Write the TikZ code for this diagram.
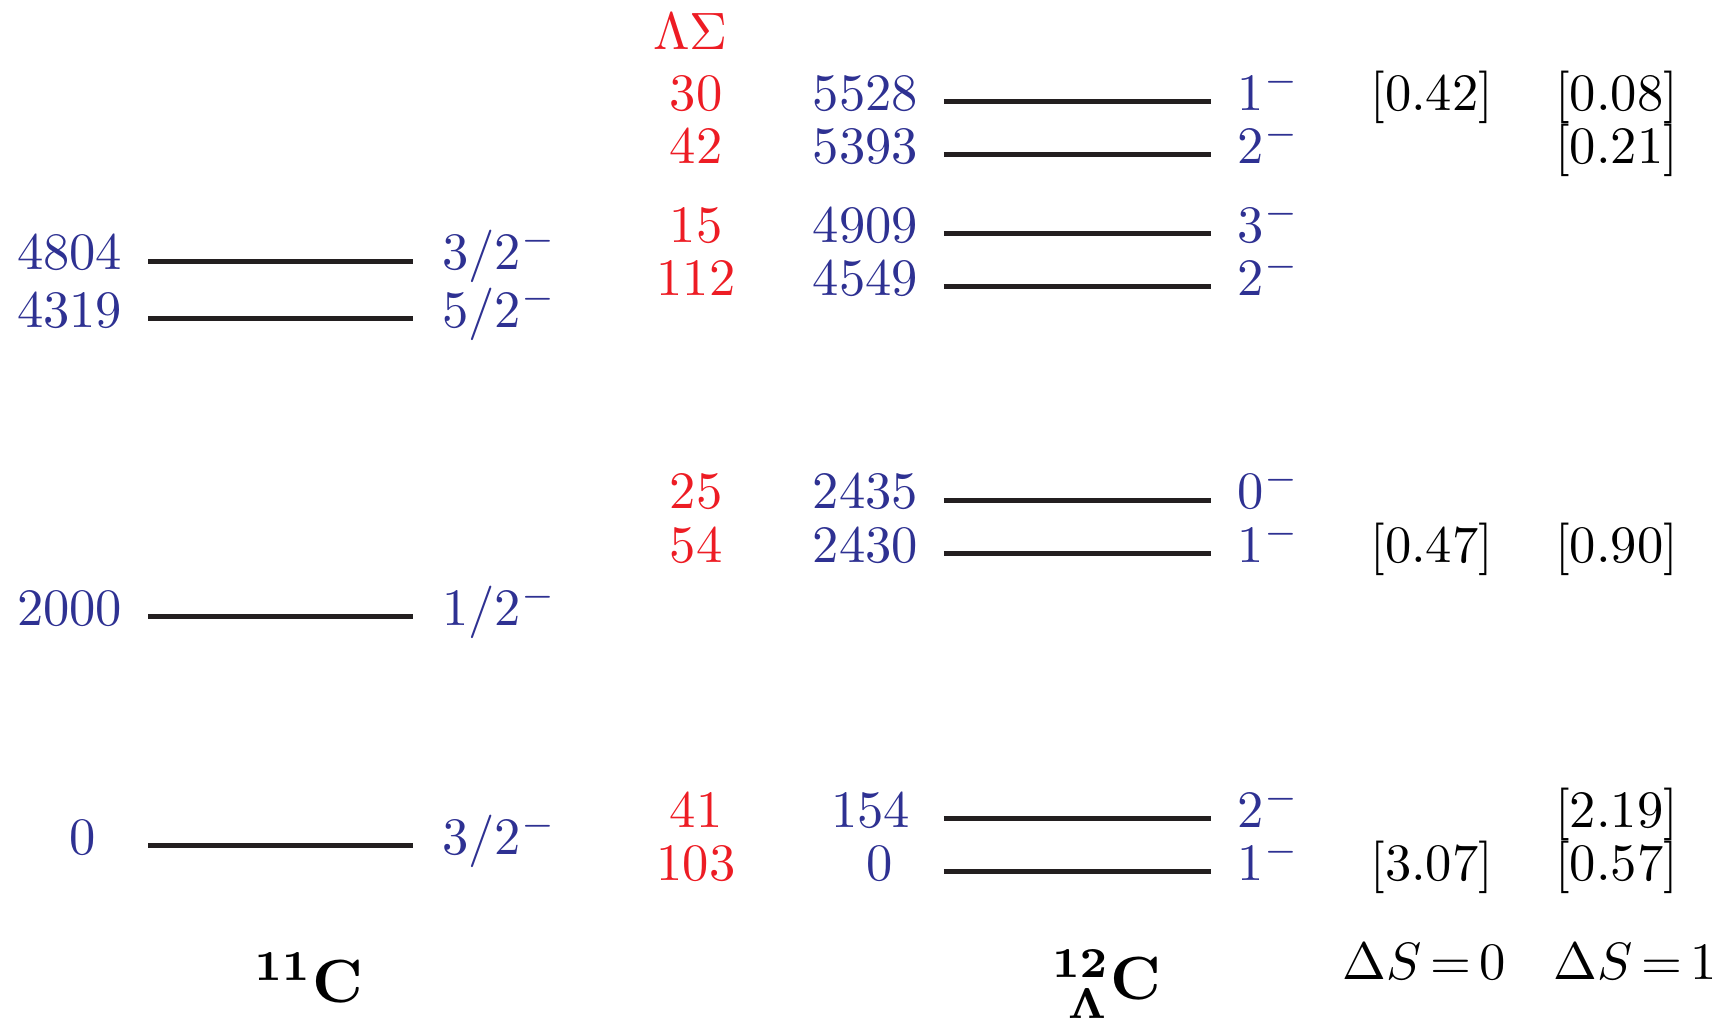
\documentclass[tikz,border=0pt]{standalone}
\definecolor{LevelBlue}{RGB}{46,49,146}
\definecolor{CouplingRed}{RGB}{237,28,36}
\definecolor{LevelLine}{RGB}{35,31,32}

\begin{document}
\begin{tikzpicture}[x=0.5pt,y=-0.5pt,every node/.style={scale=2.375,inner sep=1pt},
    nuclide/.style={anchor=base,scale=1.16,font=\boldmath}]
  \useasboundingbox (0,0) rectangle (1568,925);
  % Core level: name, line height, energy x, energy, spin-parity.
  \newcommand{\corelevel}[5]{%
    \draw[LevelLine,line width=2.3pt] (134,#2) -- (373,#2);
    \node[anchor=base,LevelBlue] (#1e) at (#3,{#2+8}) {#4};
    \node[anchor=base west,LevelBlue] (#1j) at (394,{#2+8}) {$#5$};
  }
  % Hypernuclear level: name, line height, energy x, energy, spin-parity, Lambda-Sigma shift.
  \newcommand{\hyplevel}[6]{%
    \draw[LevelLine,line width=2.3pt] (853,#2) -- (1094,#2);
    \node[anchor=base,CouplingRed] (#1s) at (629,{#2+8}) {#6};
    \node[anchor=base,LevelBlue] (#1e) at (#3,{#2+8}) {#4};
    \node[anchor=base west,LevelBlue] (#1j) at (1113,{#2+8}) {$#5$};
  }

  \corelevel{ca}{236}{63}{4804}{3/2^-}
  \corelevel{cb}{288}{63}{4319}{5/2^-}
  \corelevel{cc}{557}{63}{2000}{1/2^-}
  \corelevel{cd}{764}{75}{0}{3/2^-}

  \node[anchor=base,CouplingRed] (ls) at (624,45) {$\Lambda\Sigma$};
  \hyplevel{ha}{92}{782}{5528}{1^-}{30}
  \hyplevel{hb}{140}{782}{5393}{2^-}{42}
  \hyplevel{hc}{211}{782}{4909}{3^-}{15}
  \hyplevel{hd}{259}{782}{4549}{2^-}{112}
  \hyplevel{he}{452}{782}{2435}{0^-}{25}
  \hyplevel{hf}{500}{782}{2430}{1^-}{54}
  \hyplevel{hg}{740}{787}{154}{2^-}{41}
  \hyplevel{hh}{788}{795}{0}{1^-}{103}

  % Strengths, spin-nonflip and spin-flip.
  \foreach \y/\lab/\nm in {92/0.42/a,500/0.47/f,788/3.07/h}
    \node[anchor=base] (nf\nm) at (1294,{\y+8}) {$[\lab]$};
  \foreach \y/\lab/\nm in {92/0.08/a,140/0.21/b,500/0.90/f,740/2.19/g,788/0.57/h}
    \node[anchor=base] (sf\nm) at (1461,{\y+8}) {$[\lab]$};
  \node[anchor=base] (dsz) at (1287,885) {\thickmuskip=3mu$\Delta S=0$};
  \node[anchor=base] (dso) at (1478,885) {\thickmuskip=3mu$\Delta S=1$};

  \node[nuclide] (corelab) at (279,906) {$^{11}\mathbf{C}$};
  \node[nuclide] (hyplab) at (1000,903) {$^{12}_{\smash{\hphantom{.}\Lambda}}\mathbf{C}$};
\end{tikzpicture}
\end{document}
